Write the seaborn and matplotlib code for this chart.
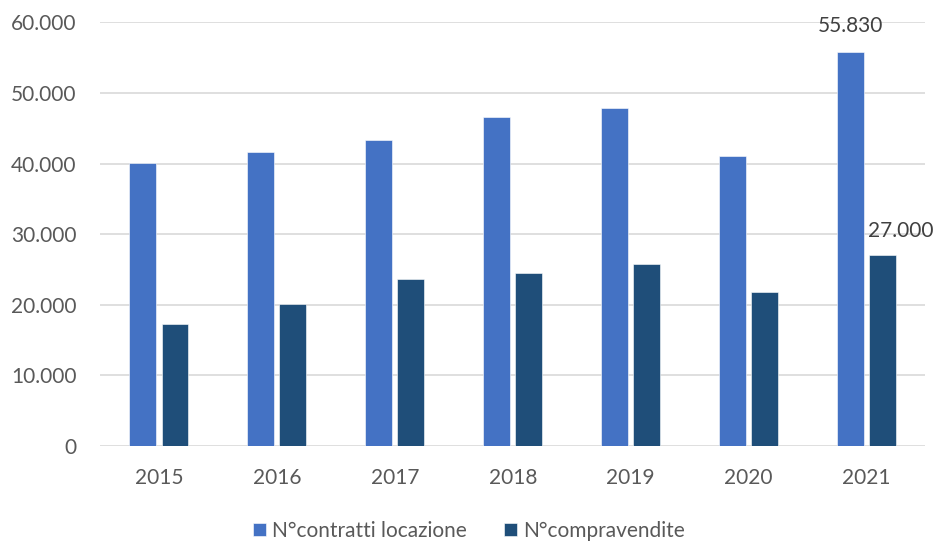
import matplotlib
matplotlib.use("Agg")
import matplotlib.pyplot as plt
import seaborn as sns
import pandas as pd
from matplotlib.ticker import FuncFormatter

years = ["2015", "2016", "2017", "2018", "2019", "2020", "2021"]
locazione = [40040, 41640, 43300, 46560, 47830, 41120, 55830]
compravendite = [17240, 20110, 23610, 24550, 25820, 21770, 27000]
series_names = ["N°contratti locazione", "N°compravendite"]
colors = ["#4472C4", "#1F4E79"]

df = pd.DataFrame({
    "Anno": years * 2,
    "Valore": locazione + compravendite,
    "Serie": [series_names[0]] * len(years) + [series_names[1]] * len(years),
})

sns.set_theme(style="white")
plt.rcParams['font.family'] = ['Lato', 'DejaVu Sans']
FS = 15

fig = plt.figure(figsize=(9.38, 5.42), dpi=100)
ax = fig.add_axes([0.1066, 0.177, 0.88, 0.782])

sns.barplot(data=df, x="Anno", y="Valore", hue="Serie", palette=colors,
            width=0.544, gap=0.16, ax=ax, saturation=1, legend=True,
            edgecolor="white", linewidth=0.4)

ax.set_ylim(0, 60000)
ax.set_yticks(range(0, 60001, 10000))
fmt = lambda v, p: f"{int(v):,}".replace(",", ".")
ax.yaxis.set_major_formatter(FuncFormatter(fmt))
ax.grid(axis="y", color="#D9D9D9", linewidth=1.2)
ax.set_axisbelow(True)
for s in ax.spines.values():
    s.set_visible(False)
ax.set_xlabel("")
ax.set_ylabel("")
ax.tick_params(axis="both", length=0, labelsize=FS, colors="#595959")
ax.tick_params(axis="y", pad=17)
ax.tick_params(axis="x", pad=16)

# data labels for last category
c0 = ax.containers[0]
c1 = ax.containers[1]
b0 = c0[len(years) - 1]
b1 = c1[len(years) - 1]
ax.annotate(fmt(locazione[-1], None), (b0.get_x() + b0.get_width() / 2, b0.get_height()),
            xytext=(0, 11), textcoords="offset points", ha="center", va="bottom",
            fontsize=FS, color="#404040")
ax.annotate(fmt(compravendite[-1], None), (b1.get_x() + b1.get_width() / 2, b1.get_height()),
            xytext=(13, 10), textcoords="offset points", ha="center", va="bottom",
            fontsize=FS, color="#404040")

leg = ax.legend(loc="center", bbox_to_anchor=(0.5, 0.02), bbox_transform=fig.transFigure,
                ncol=2, frameon=False, fontsize=FS, handlelength=0.6, handleheight=0.6,
                handletextpad=0.3, columnspacing=1.8, borderpad=0)
for t in leg.get_texts():
    t.set_color("#595959")

fig.savefig("out.png", dpi=100)
